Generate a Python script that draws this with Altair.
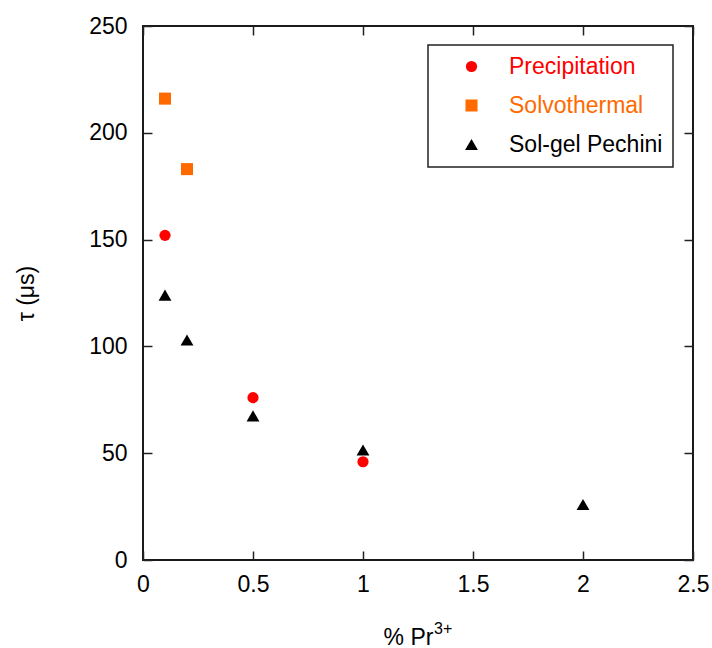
import altair as alt
import pandas as pd

# ---- data ----
methods = ["Precipitation", "Solvothermal", "Sol-gel Pechini"]
precip_x = [0.1, 0.5, 1.0]
precip_y = [152, 76, 46]
solvo_x = [0.1, 0.2]
solvo_y = [216, 183]
solgel_x = [0.1, 0.2, 0.5, 1.0, 2.0]
solgel_y = [124, 103, 67.5, 51.5, 26]
x_ticks = [0, 0.5, 1, 1.5, 2, 2.5]
y_ticks = [0, 50, 100, 150, 200, 250]
x_title = "% Pr"
x_title_sup = "3+"
y_title = "τ (μs)"

colors = ["#ff0000", "#ff6a00", "#000000"]
shapes = ["circle", "square", "triangle-up"]
sizes = [125, 165, 135]

rows = []
for m, xs, ys in zip(methods, [precip_x, solvo_x, solgel_x], [precip_y, solvo_y, solgel_y]):
    for a, b in zip(xs, ys):
        rows.append({"method": m, "pr": a, "tau": b})
df = pd.DataFrame(rows)

FONT = "Liberation Sans"
W, H = 550, 534

xscale = alt.Scale(domain=[0, 2.5], nice=False, zero=False)
yscale = alt.Scale(domain=[0, 250], nice=False, zero=False)

label_color = ("datum.label === 'Precipitation' ? '#ff0000' : "
               "datum.label === 'Solvothermal' ? '#ff6a00' : '#000000'")

legend = alt.Legend(
    title=None, orient="none", legendX=285, legendY=19,
    strokeColor="#222222", fillColor="white",
    padding=10, rowPadding=15, symbolSize=130, symbolOffset=22,
    labelOffset=26, labelFontSize=23, labelFont=FONT,
    labelColor=alt.ExprRef(expr=label_color), symbolStrokeWidth=0,
)

tick = alt.ExprRef(expr="-9")

points = alt.Chart(df).mark_point(filled=True, opacity=1).encode(
    x=alt.X("pr:Q", scale=xscale, axis=alt.Axis(
        values=x_ticks, format="~g", title=x_title, grid=False, domain=False,
        tickSize=tick, tickWidth=1.5, tickColor="#222222",
        labelFont=FONT, labelFontSize=23, labelColor="black", labelPadding=22,
        labelFlush=False,
        titleFont=FONT, titleFontSize=23, titleFontWeight="normal", titleColor="black",
        titleX=W / 2 - 10, titleY=84, titleBaseline="alphabetic")),
    y=alt.Y("tau:Q", scale=yscale, axis=alt.Axis(
        values=y_ticks, title=y_title, grid=False, domain=False,
        tickSize=tick, tickWidth=1.5, tickColor="#222222",
        labelFont=FONT, labelFontSize=23, labelColor="black", labelPadding=25,
        labelFlush=False,
        titleFont=FONT, titleFontSize=23, titleFontWeight="normal", titleColor="black",
        titleX=-117, titleY=H / 2, titleBaseline="middle")),
    color=alt.Color("method:N", sort=methods,
                    scale=alt.Scale(domain=methods, range=colors), legend=legend),
    shape=alt.Shape("method:N", sort=methods,
                    scale=alt.Scale(domain=methods, range=shapes), legend=legend),
    size=alt.Size("method:N", sort=methods,
                  scale=alt.Scale(domain=methods, range=sizes), legend=None),
)

mirror = alt.Chart(df).mark_point(opacity=0).encode(
    x=alt.X("pr:Q", scale=xscale, axis=alt.Axis(
        orient="top", values=x_ticks, labels=False, title=None, grid=False, domain=False,
        tickSize=tick, tickWidth=1.5, tickColor="#222222")),
    y=alt.Y("tau:Q", scale=yscale, axis=alt.Axis(
        orient="right", values=y_ticks, labels=False, title=None, grid=False, domain=False,
        tickSize=tick, tickWidth=1.5, tickColor="#222222")),
)

# superscript of the x-axis title
sup = alt.Chart(pd.DataFrame({"t": [x_title_sup]})).mark_text(
    font=FONT, fontSize=16, color="black", align="left", baseline="alphabetic"
).encode(
    text="t:N",
    x=alt.value(W / 2 - 10 + 26),
    y=alt.value(H + 84 - 10),
)

chart = alt.layer(points, mirror, sup).resolve_axis(
    x="independent", y="independent"
).properties(
    width=W, height=H,
    autosize=alt.AutoSizeParams(type="none"),
    padding={"left": 143, "top": 26, "right": 19, "bottom": 88},
    background="white",
).configure_view(stroke="#1a1a1a", strokeWidth=2
).configure_legend(strokeWidth=1.5)

chart.save("out.html", embed_options={"renderer": "svg", "actions": False})
